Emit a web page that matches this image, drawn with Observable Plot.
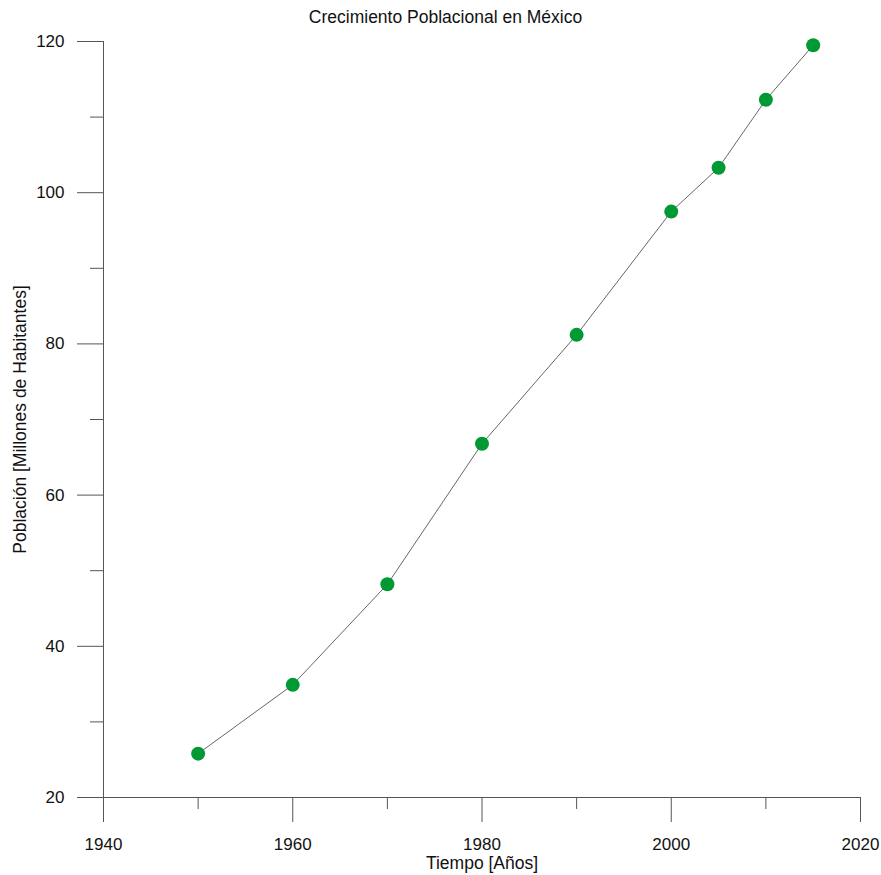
<!DOCTYPE html>
<html>
<head>
<meta charset="utf-8">
<script src="https://cdn.jsdelivr.net/npm/d3@7"></script>
<script src="https://cdn.jsdelivr.net/npm/@observablehq/plot@0.6"></script>
<style>
  body { margin: 0; background: #fff; font-family: "Liberation Sans", Arial, sans-serif; }
  #title { width: 881px; height: 34px; line-height: 34px; text-align: center; font-size: 17.5px; color: #111; padding-left: 10px; box-sizing: border-box; }
</style>
</head>
<body>
<div id="title">Crecimiento Poblacional en México</div>
<div id="chart"></div>
<script>
const years = [1950, 1960, 1970, 1980, 1990, 2000, 2005, 2010, 2015];
const population = [25.8, 34.9, 48.2, 66.8, 81.2, 97.5, 103.3, 112.3, 119.5];
const xMajorTicks = [1940, 1960, 1980, 2000, 2020];
const xMinorTicks = [1950, 1970, 1990, 2010];
const yMajorTicks = [20, 40, 60, 80, 100, 120];
const yMinorTicks = [30, 50, 70, 90, 110];
const xLabel = "Tiempo [Años]";
const yLabel = "Población [Millones de Habitantes]";

const data = years.map((y, i) => ({year: y, pop: population[i]}));
const axisColor = "#555";

const chart = Plot.plot({
  width: 881,
  height: 841,
  marginTop: 7,
  marginLeft: 103,
  marginRight: 21,
  marginBottom: 78,
  style: {fontFamily: "'Liberation Sans', Arial, sans-serif", fontSize: "17px", color: "#111", background: "#fff", overflow: "visible"},
  x: {domain: [1940, 2020]},
  y: {domain: [20, 120]},
  marks: [
    Plot.ruleY([20], {stroke: axisColor}),
    Plot.ruleX([1940], {stroke: axisColor}),
    Plot.axisX({ticks: xMajorTicks, tickSize: 25, tickPadding: 15, tickFormat: d => String(d), stroke: axisColor, fontSize: 17, label: null}),
    Plot.axisX({ticks: xMinorTicks, tickSize: 12, text: null, stroke: axisColor, label: null}),
    Plot.axisY({ticks: yMajorTicks, tickSize: 26, tickPadding: 13, stroke: axisColor, fontSize: 17, label: null}),
    Plot.axisY({ticks: yMinorTicks, tickSize: 13, text: null, stroke: axisColor, label: null}),
    Plot.text([xLabel], {text: d => d, frameAnchor: "bottom", dy: 71, fontSize: 17.5, fill: "#111"}),
    Plot.text([yLabel], {text: d => d, frameAnchor: "left", textAnchor: "middle", dx: -83, rotate: -90, fontSize: 17.5, fill: "#111"}),
    Plot.line(data, {x: "year", y: "pop", stroke: "#555", strokeWidth: 0.9}),
    Plot.dot(data, {x: "year", y: "pop", r: 7, fill: "#009933", stroke: "none"})
  ]
});
document.getElementById("chart").appendChild(chart);
</script>
</body>
</html>
